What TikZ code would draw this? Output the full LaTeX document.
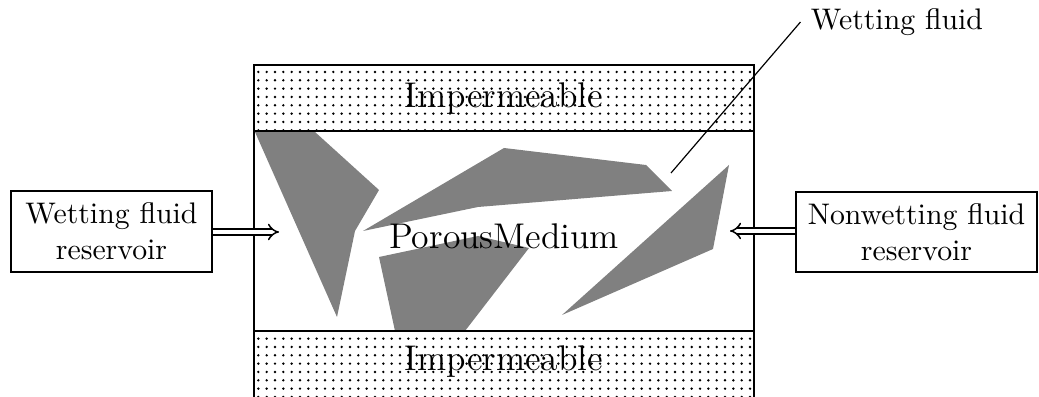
\documentclass[tikz,border=0pt]{standalone}
\usetikzlibrary{arrows.meta,patterns.meta}
\begin{document}
\begin{tikzpicture}[x=0.336pt,y=-0.336pt,
  grain/.style={fill=gray,draw=none},
  strip/.style={draw,fill=white,postaction={pattern={Dots[distance=2.8pt,radius=0.45pt]}}},
  resbox/.style={draw,align=center,inner sep=0pt},
  feed/.style={double,line width=0.5pt,double distance=1.4pt,-{Implies[length=5pt,width=7pt]}},
  lbl/.style={font=\large}]
\useasboundingbox (0,0) rectangle (1039,397);
% grains
\fill[grain] (255,132) -- (315,132) -- (379,190) -- (355,231) -- (337,317) -- cycle;
\fill[grain] (363,231) -- (504,148) -- (646,165) -- (672,191) -- (478,207) -- cycle;
\fill[grain] (379,257) -- (478,236) -- (529,248) -- (465,331) -- (395,331) -- cycle;
\fill[grain] (729,165) -- (713,249) -- (562,315) -- cycle;
% medium
\draw (254,131) rectangle (754,331);
\draw[strip] (254,65) rectangle (754,131);
\draw[strip] (254,331) rectangle (754,402);
\node[lbl] (imtop) at (504,99) {Impermeable};
\node[lbl] (imbot) at (504,362) {Impermeable};
\node[lbl] (pm) at (504,236) {PorousMedium};
% reservoirs
\node[resbox,minimum width=201*0.336pt,minimum height=81*0.336pt] (wres) at (111.5,231.5) {Wetting fluid\\reservoir};
\node[resbox,minimum width=241*0.336pt,minimum height=80*0.336pt] (nres) at (916.5,232) {Nonwetting fluid\\reservoir};
\coordinate (win) at (279,232);
\coordinate (nin) at (730,231);
\draw[feed] (wres.east |- win) -- (win);
\draw[feed] (nres.west |- nin) -- (nin);
% label
\node (wf) at (897,22) {Wetting fluid};
\coordinate (wtip) at (671,173);
\draw (wtip) -- (wf.west);
\end{tikzpicture}
\end{document}
